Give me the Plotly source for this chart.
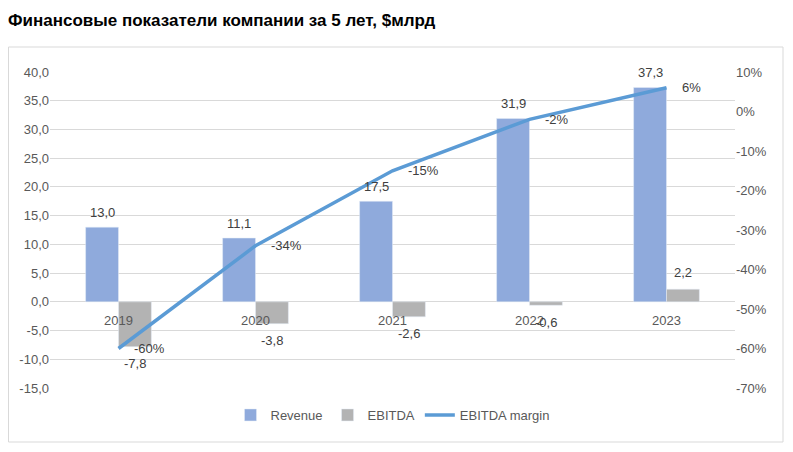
import plotly.graph_objects as go

years = ["2019", "2020", "2021", "2022", "2023"]
revenue = [13.0, 11.1, 17.5, 31.9, 37.3]
ebitda = [-7.8, -3.8, -2.6, -0.6, 2.2]
margin = [-0.60, -0.34, -0.15, -0.02, 0.06]

left_ticks = [-15, -10, -5, 0, 5, 10, 15, 20, 25, 30, 35, 40]
left_ticktext = ["-15,0", "-10,0", "-5,0", "0,0", "5,0", "10,0", "15,0", "20,0", "25,0", "30,0", "35,0", "40,0"]
right_ticks = [-0.7, -0.6, -0.5, -0.4, -0.3, -0.2, -0.1, 0.0, 0.1]
right_ticktext = ["-70%", "-60%", "-50%", "-40%", "-30%", "-20%", "-10%", "0%", "10%"]

def fmt1(v):
    return f"{v:.1f}".replace(".", ",")

def fmtp(v):
    return f"{round(v*100):d}%"

FONT = "Liberation Sans, Arial, sans-serif"
LBL = "#404040"
AX = "#595959"

# page body has an 8px margin; figure is sized/offset to compensate
OFF = 8
W, H = 793 - OFF, 452 - OFF
L, T = 50 - OFF, 72 - OFF
R = W - (735 - OFF)
B = H - (388 - OFF)
pw, ph = W - L - R, H - T - B

BARGAP = 0.52
half = (1 - BARGAP) / 4  # offset of each bar centre from category centre

fig = go.Figure()
fig.add_trace(go.Bar(x=years, y=revenue, name="Revenue", marker_color="#8faadc"))
fig.add_trace(go.Bar(x=years, y=ebitda, name="EBITDA", marker_color="#b3b3b3"))
fig.add_trace(go.Scatter(
    x=years, y=margin, name="EBITDA margin", yaxis="y2",
    mode="lines", line=dict(color="#5b9bd5", width=3.5),
))

lblfont = dict(size=13, color=LBL, family=FONT)
for i, yr in enumerate(years):
    fig.add_annotation(x=i, y=0, xref="x", yref="y", text=yr, showarrow=False,
                       yshift=-19, font=dict(size=13, color=AX, family=FONT))
    fig.add_annotation(x=i - half, y=revenue[i], xref="x", yref="y",
                       text=fmt1(revenue[i]), showarrow=False,
                       yshift=15 if revenue[i] >= 0 else -17, font=lblfont)
    fig.add_annotation(x=i + half, y=ebitda[i], xref="x", yref="y",
                       text=fmt1(ebitda[i]), showarrow=False,
                       yshift=17 if ebitda[i] >= 0 else -17, font=lblfont)
    fig.add_annotation(x=i, y=margin[i], xref="x", yref="y2",
                       text=fmtp(margin[i]), showarrow=False,
                       xanchor="left", xshift=13, font=lblfont)

fig.add_shape(type="rect", xref="paper", yref="paper",
              x0=(0.5 - L) / pw, x1=(783 - OFF - L) / pw,
              y0=(H - B - (442 - OFF)) / ph, y1=(H - B - (47 - OFF)) / ph,
              line=dict(color="#d9d9d9", width=1), layer="below")

fig.update_layout(
    width=W, height=H,
    margin=dict(l=L, r=R, t=T, b=B),
    paper_bgcolor="white", plot_bgcolor="white",
    font=dict(family=FONT, color=AX, size=13),
    title=dict(text="<b>Финансовые показатели компании за 5 лет, $млрд</b>",
               x=0, xref="container", xanchor="left",
               y=1 - (20 - OFF) / H, yref="container", yanchor="middle",
               font=dict(size=17, color="#000000", family=FONT)),
    barmode="group", bargap=BARGAP, bargroupgap=0,
    xaxis=dict(type="category", showticklabels=False, showgrid=False, zeroline=False,
               showline=False, ticks="", range=[-0.5, 4.5]),
    yaxis=dict(range=[-15, 40], tickvals=left_ticks, ticktext=left_ticktext,
               showgrid=True, gridcolor="#d9d9d9", gridwidth=1, zeroline=True,
               zerolinecolor="#d9d9d9", zerolinewidth=1, showline=False,
               tickfont=dict(size=13, color=AX), ticks="", ticklen=0, automargin=False),
    yaxis2=dict(range=[-0.7, 0.1], tickvals=right_ticks, ticktext=right_ticktext,
                overlaying="y", side="right", showgrid=False, zeroline=False,
                showline=False, tickfont=dict(size=13, color=AX), automargin=False),
    legend=dict(orientation="h", x=0.5, xanchor="center",
                y=-((415 - OFF) - (H - B)) / ph, yanchor="middle",
                font=dict(size=13, color=AX), traceorder="normal"),
    showlegend=True,
)

fig.write_html("out.html")
